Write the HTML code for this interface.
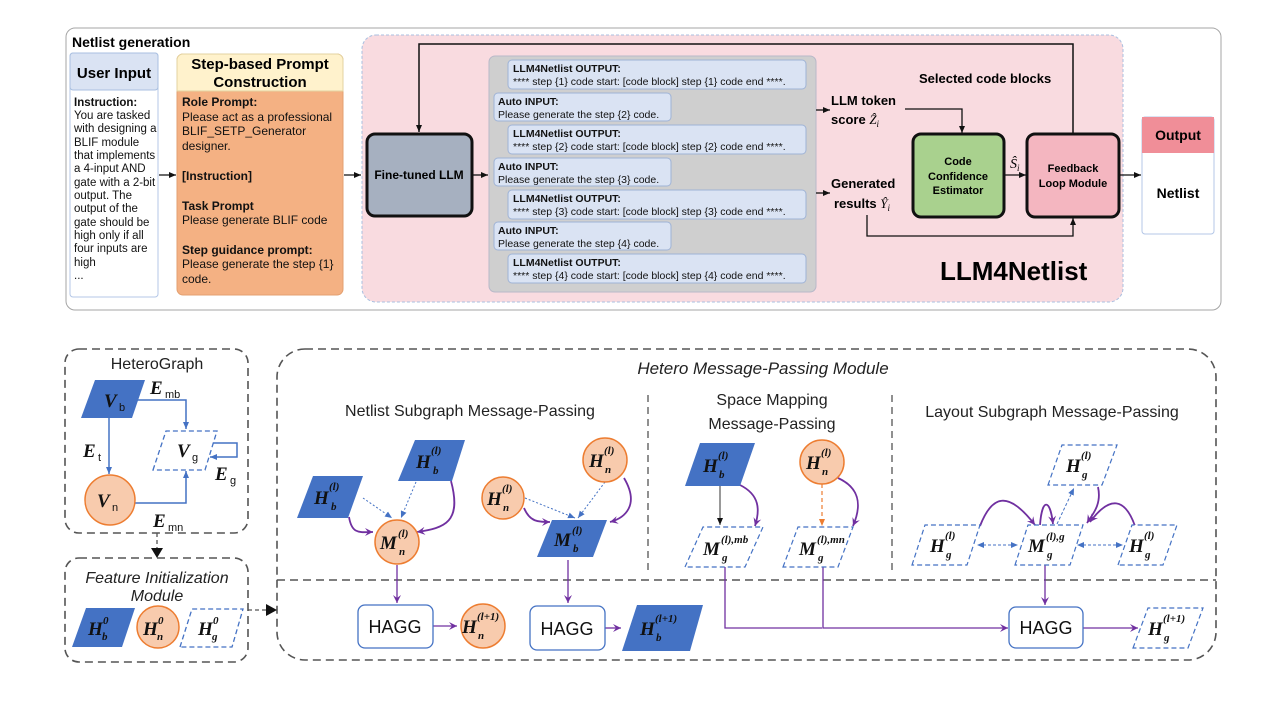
<!DOCTYPE html>
<html><head><meta charset="utf-8"><style>
html,body{margin:0;padding:0;background:#fff;}
svg{display:block;font-family:"Liberation Sans",sans-serif;}
.b{font-weight:bold;}
.m{font-family:"Liberation Serif",serif;font-style:italic;font-weight:bold;font-size:19px;fill:#111;}
.sp{font-family:"Liberation Serif",serif;font-style:italic;font-weight:bold;font-size:11px;fill:#111;}
.sb{font-family:"Liberation Serif",serif;font-style:italic;font-weight:bold;font-size:11px;fill:#111;}
.t{font-size:11.5px;fill:#111;}
.s{font-size:12px;fill:#111;}
.c{font-size:10.5px;fill:#111;}
</style></head><body>
<svg width="1280" height="720" viewBox="0 0 1280 720" xmlns="http://www.w3.org/2000/svg">
<defs>
<marker id="ak" markerWidth="8" markerHeight="8" refX="7" refY="4" orient="auto" markerUnits="userSpaceOnUse"><path d="M0,1 L7,4 L0,7z" fill="#111"/></marker>
<marker id="ap" markerWidth="10" markerHeight="10" refX="8" refY="5" orient="auto" markerUnits="userSpaceOnUse"><path d="M0,1 L8,5 L0,9 L3,5z" fill="#7030a0"/></marker>
<marker id="abl" markerWidth="8" markerHeight="8" refX="7" refY="4" orient="auto" markerUnits="userSpaceOnUse"><path d="M0,1 L7,4 L0,7z" fill="#4472c4"/></marker>
<marker id="ao" markerWidth="8" markerHeight="8" refX="7" refY="4" orient="auto" markerUnits="userSpaceOnUse"><path d="M0,1 L7,4 L0,7z" fill="#ed7d31"/></marker>
<marker id="abs" markerWidth="8" markerHeight="8" refX="1" refY="4" orient="auto" markerUnits="userSpaceOnUse"><path d="M7,1 L0,4 L7,7z" fill="#4472c4"/></marker>
</defs>

<!-- ============ TOP PANEL ============ -->
<rect x="66" y="28" width="1155" height="282" rx="9" fill="#fff" stroke="#a6a6a6" stroke-width="1"/>
<text x="72" y="47" class="b" font-size="14">Netlist generation</text>

<!-- User input -->
<rect x="70" y="53" width="88" height="244" rx="3" fill="#fff" stroke="#b4c7e7"/>
<rect x="70" y="53" width="88" height="37" rx="3" fill="#dae3f3" stroke="#a9bfe0"/>
<text x="114" y="78" class="b" font-size="15" text-anchor="middle">User Input</text>
<text class="t" x="74"><tspan x="74" y="106" font-weight="bold">Instruction:</tspan><tspan x="74" y="119">You are tasked</tspan><tspan x="74" y="132">with designing a</tspan><tspan x="74" y="146">BLIF module</tspan><tspan x="74" y="159">that implements</tspan><tspan x="74" y="172">a 4-input AND</tspan><tspan x="74" y="186">gate with a 2-bit</tspan><tspan x="74" y="199">output. The</tspan><tspan x="74" y="212">output of the</tspan><tspan x="74" y="226">gate should be</tspan><tspan x="74" y="239">high only if all</tspan><tspan x="74" y="252">four inputs are</tspan><tspan x="74" y="266">high</tspan><tspan x="74" y="279">...</tspan></text>

<!-- Step box -->
<rect x="177" y="54" width="166" height="241" rx="6" fill="#f4b183" stroke="#e3a070"/>
<path d="M177,91 V60 a6,6 0 0 1 6,-6 H337 a6,6 0 0 1 6,6 V91z" fill="#fff2cc" stroke="#e3d3a0"/>
<text x="260" y="69" class="b" font-size="15" text-anchor="middle">Step-based Prompt</text>
<text x="260" y="87" class="b" font-size="15" text-anchor="middle">Construction</text>
<text class="s"><tspan x="182" y="106" font-weight="bold">Role Prompt:</tspan><tspan x="182" y="121">Please act as a professional</tspan><tspan x="182" y="135">BLIF_SETP_Generator</tspan><tspan x="182" y="150">designer.</tspan><tspan x="182" y="180" font-weight="bold">[Instruction]</tspan><tspan x="182" y="210" font-weight="bold">Task Prompt</tspan><tspan x="182" y="224">Please generate BLIF code</tspan><tspan x="182" y="254" font-weight="bold">Step guidance prompt:</tspan><tspan x="182" y="268">Please generate the step {1}</tspan><tspan x="182" y="283">code.</tspan></text>

<line x1="159" y1="175" x2="176" y2="175" stroke="#111" stroke-width="1.3" marker-end="url(#ak)"/>
<line x1="344" y1="175" x2="361" y2="175" stroke="#111" stroke-width="1.3" marker-end="url(#ak)"/>

<!-- Pink region -->
<rect x="362" y="35" width="761" height="267" rx="14" fill="#f9dbe0" stroke="#a9bfe0" stroke-dasharray="3,2"/>

<!-- Fine-tuned LLM -->
<rect x="367" y="134" width="105" height="82" rx="8" fill="#a6b0c0" stroke="#111" stroke-width="3"/>
<text x="419" y="179" class="b" font-size="12" text-anchor="middle">Fine-tuned LLM</text>
<line x1="473" y1="175" x2="488" y2="175" stroke="#111" stroke-width="1.3" marker-end="url(#ak)"/>

<!-- feedback loop top -->
<polyline points="1073,135 1073,44 419,44 419,132" fill="none" stroke="#111" stroke-width="1.5" marker-end="url(#ak)"/>

<!-- gray panel -->
<rect x="489" y="56" width="327" height="236" rx="6" fill="#cfcfcf" stroke="#b8b8c8"/>
<g class="c">
<rect x="508" y="60" width="298" height="29" rx="4" fill="#dae3f3" stroke="#9fb3d6"/>
<text x="513" y="72" font-weight="bold">LLM4Netlist OUTPUT:</text><text x="513" y="85">**** step {1} code start: [code block] step {1} code end ****.</text>
<rect x="494" y="93" width="177" height="28" rx="4" fill="#dae3f3" stroke="#9fb3d6"/>
<text x="498" y="105" font-weight="bold">Auto INPUT:</text><text x="498" y="118">Please generate the step {2} code.</text>
<rect x="508" y="125" width="298" height="29" rx="4" fill="#dae3f3" stroke="#9fb3d6"/>
<text x="513" y="137" font-weight="bold">LLM4Netlist OUTPUT:</text><text x="513" y="150">**** step {2} code start:  [code block] step {2} code end ****.</text>
<rect x="494" y="158" width="177" height="28" rx="4" fill="#dae3f3" stroke="#9fb3d6"/>
<text x="498" y="170" font-weight="bold">Auto INPUT:</text><text x="498" y="183">Please generate the step {3} code.</text>
<rect x="508" y="190" width="298" height="29" rx="4" fill="#dae3f3" stroke="#9fb3d6"/>
<text x="513" y="202" font-weight="bold">LLM4Netlist OUTPUT:</text><text x="513" y="215">**** step {3} code start:  [code block] step {3} code end ****.</text>
<rect x="494" y="222" width="177" height="28" rx="4" fill="#dae3f3" stroke="#9fb3d6"/>
<text x="498" y="234" font-weight="bold">Auto INPUT:</text><text x="498" y="247">Please generate the step {4} code.</text>
<rect x="508" y="254" width="298" height="29" rx="4" fill="#dae3f3" stroke="#9fb3d6"/>
<text x="513" y="266" font-weight="bold">LLM4Netlist OUTPUT:</text><text x="513" y="279">**** step {4} code start: [code block] step {4} code end ****.</text>
</g>

<line x1="816" y1="110" x2="830" y2="110" stroke="#111" stroke-width="1.3" marker-end="url(#ak)"/>
<line x1="816" y1="193" x2="830" y2="193" stroke="#111" stroke-width="1.3" marker-end="url(#ak)"/>
<text x="831" y="105" class="b" font-size="13">LLM token</text>
<text x="831" y="124" class="b" font-size="13">score <tspan font-family="Liberation Serif" font-style="italic" font-weight="normal">Ẑ</tspan><tspan font-family="Liberation Serif" font-style="italic" font-weight="normal" font-size="9" dy="3">i</tspan></text>
<text x="831" y="188" class="b" font-size="13">Generated</text>
<text x="834" y="208" class="b" font-size="13">results <tspan font-family="Liberation Serif" font-style="italic" font-weight="normal">Ŷ</tspan><tspan font-family="Liberation Serif" font-style="italic" font-weight="normal" font-size="9" dy="3">i</tspan></text>
<text x="919" y="83" class="b" font-size="13">Selected code blocks</text>

<polyline points="905,109 962,109 962,133" fill="none" stroke="#111" stroke-width="1.3" marker-end="url(#ak)"/>
<polyline points="867,215 867,236 1073,236 1073,218" fill="none" stroke="#111" stroke-width="1.3" marker-end="url(#ak)"/>

<rect x="913" y="134" width="91" height="83" rx="8" fill="#a9d18e" stroke="#111" stroke-width="3"/>
<text x="958" y="165" class="b" font-size="11" text-anchor="middle">Code</text>
<text x="958" y="180" class="b" font-size="11" text-anchor="middle">Confidence</text>
<text x="958" y="194" class="b" font-size="11" text-anchor="middle">Estimator</text>
<line x1="1005" y1="175" x2="1026" y2="175" stroke="#111" stroke-width="1.3" marker-end="url(#ak)"/>
<text x="1010" y="168" font-family="Liberation Serif" font-style="italic" font-size="14">Ŝ<tspan font-size="9" dy="3">i</tspan></text>

<rect x="1027" y="134" width="92" height="83" rx="8" fill="#f4b6c0" stroke="#111" stroke-width="3"/>
<text x="1073" y="172" class="b" font-size="11" text-anchor="middle">Feedback</text>
<text x="1073" y="187" class="b" font-size="11" text-anchor="middle">Loop Module</text>
<line x1="1120" y1="175" x2="1141" y2="175" stroke="#111" stroke-width="1.3" marker-end="url(#ak)"/>
<text x="940" y="280" class="b" font-size="26">LLM4Netlist</text>

<rect x="1142" y="117" width="72" height="117" rx="3" fill="#fff" stroke="#b4c7e7"/>
<rect x="1142" y="117" width="72" height="36" fill="#f08e98"/>
<text x="1178" y="140" class="b" font-size="14" text-anchor="middle">Output</text>
<text x="1178" y="198" class="b" font-size="14" text-anchor="middle">Netlist</text>

<!-- ============ BOTTOM ============ -->
<g fill="none" stroke="#555" stroke-width="1.6" stroke-dasharray="8,5">
<rect x="65" y="349" width="183" height="184" rx="14"/>
<rect x="65" y="558" width="183" height="104" rx="14"/>
<rect x="277" y="349" width="939" height="311" rx="28"/>
<line x1="277" y1="580" x2="1216" y2="580"/>
<line x1="648" y1="395" x2="648" y2="573" stroke-width="1.3" stroke-dasharray="7,5"/>
<line x1="892" y1="395" x2="892" y2="573" stroke-width="1.3" stroke-dasharray="7,5"/>
<line x1="157" y1="533" x2="157" y2="550" stroke-width="1.3" stroke-dasharray="4,3"/>
<line x1="248" y1="610" x2="268" y2="610" stroke-width="1.3" stroke-dasharray="4,3"/>
</g>
<path d="M151,548 L163,548 L157,558z" fill="#111"/>
<path d="M266,604 L266,616 L277,610z" fill="#111"/>

<text x="157" y="369" font-size="16" text-anchor="middle" fill="#222">HeteroGraph</text>
<text x="157" y="583" font-size="16" font-style="italic" text-anchor="middle" fill="#222">Feature Initialization</text>
<text x="157" y="601" font-size="16" font-style="italic" text-anchor="middle" fill="#222">Module</text>
<text x="763" y="374" font-size="17" font-style="italic" text-anchor="middle" fill="#222">Hetero Message-Passing Module</text>
<text x="470" y="416" font-size="16" text-anchor="middle" fill="#222">Netlist Subgraph Message-Passing</text>
<text x="772" y="405" font-size="16" text-anchor="middle" fill="#222">Space Mapping</text>
<text x="772" y="429" font-size="16" text-anchor="middle" fill="#222">Message-Passing</text>
<text x="1052" y="417" font-size="16" text-anchor="middle" fill="#222">Layout Subgraph Message-Passing</text>

<!-- HeteroGraph -->
<g stroke="#4472c4" stroke-width="1.5" fill="none">
<polyline points="132,400 186,400 186,429" marker-end="url(#abl)"/>
<line x1="109" y1="418" x2="109" y2="474" marker-end="url(#abl)"/>
<polyline points="135,503 186,503 186,471" marker-end="url(#abl)"/>
<polyline points="212,443 237,443 237,457 210,457" marker-end="url(#abl)"/>
</g>
<polygon points="81,418 95,380 145,380 132,418" fill="#4472c4"/>
<polygon points="153,470 166,431 217,431 205,470" fill="#fff" stroke="#4472c4" stroke-width="1.3" stroke-dasharray="5,3"/>
<circle cx="110" cy="500" r="25" fill="#f8cbad" stroke="#ed7d31" stroke-width="1.5"/>
<text x="104" y="407" class="m" font-size="21">V</text><text x="119" y="411" font-size="11" fill="#111">b</text>
<text x="177" y="457" class="m" font-size="21">V</text><text x="192" y="461" font-size="11" fill="#111">g</text>
<text x="97" y="507" class="m" font-size="21">V</text><text x="112" y="511" font-size="11" fill="#111">n</text>
<text x="150" y="394" class="m" font-size="21">E</text><text x="165" y="398" font-size="11" fill="#111">mb</text>
<text x="83" y="457" class="m" font-size="21">E</text><text x="98" y="461" font-size="11" fill="#111">t</text>
<text x="215" y="480" class="m" font-size="21">E</text><text x="230" y="484" font-size="11" fill="#111">g</text>
<text x="153" y="527" class="m" font-size="21">E</text><text x="168" y="531" font-size="11" fill="#111">mn</text>

<!-- Feature init nodes -->
<polygon points="72,647 86,608 135,608 122,647" fill="#4472c4"/>
<circle cx="158" cy="627" r="21" fill="#f8cbad" stroke="#ed7d31" stroke-width="1.5"/>
<polygon points="180,647 192,609 243,609 232,647" fill="#fff" stroke="#4472c4" stroke-width="1.3" stroke-dasharray="5,3"/>
<text x="88" y="635" class="m">H</text><text x="103" y="624" class="sp">0</text><text x="102" y="640" class="sb">b</text>
<text x="143" y="635" class="m">H</text><text x="158" y="624" class="sp">0</text><text x="157" y="640" class="sb">n</text>
<text x="198" y="635" class="m">H</text><text x="213" y="624" class="sp">0</text><text x="212" y="640" class="sb">g</text>

<!-- Netlist subgraph -->
<g stroke="#4472c4" stroke-width="1" stroke-dasharray="2,2" fill="none">
<line x1="363" y1="498" x2="392" y2="518" marker-end="url(#abl)"/>
<line x1="416" y1="482" x2="401" y2="518" marker-end="url(#abl)"/>
<line x1="525" y1="498" x2="575" y2="518" marker-end="url(#abl)"/>
<line x1="605" y1="482" x2="578" y2="518" marker-end="url(#abl)"/>
</g>
<g stroke="#7030a0" stroke-width="1.8" fill="none">
<path d="M349,517 C352,535 360,532 373,532" marker-end="url(#ap)"/>
<path d="M451,481 C462,522 445,528 417,532" marker-end="url(#ap)"/>
<path d="M524,508 C530,522 538,522 550,522" marker-end="url(#ap)"/>
<path d="M624,478 C640,505 625,518 610,522" marker-end="url(#ap)"/>
<path d="M397,565 V603" stroke-width="1.3" marker-end="url(#ap)"/>
<path d="M568,560 V603" stroke-width="1.3" marker-end="url(#ap)"/>
<path d="M433,626 H457" stroke-width="1.3" marker-end="url(#ap)"/>
<path d="M605,628 H621" stroke-width="1.3" marker-end="url(#ap)"/>
<path d="M740,485 C760,495 760,510 755,526" marker-end="url(#ap)"/>
<path d="M838,478 C860,488 862,505 853,526" marker-end="url(#ap)"/>
<polyline points="725,567 725,628 822,628" stroke-width="1.3"/>
<polyline points="823,567 823,628 1008,628" stroke-width="1.3" marker-end="url(#ap)"/>
<path d="M1045,565 V605" stroke-width="1.3" marker-end="url(#ap)"/>
<path d="M1083,628 H1138" stroke-width="1.3" marker-end="url(#ap)"/>
<path d="M980,526 C992,495 1008,490 1035,525" marker-end="url(#ap)"/>
<path d="M1040,525 C1042,498 1050,498 1053,524" marker-end="url(#ap)"/>
<path d="M1098,487 C1102,505 1092,515 1087,523" marker-end="url(#ap)"/>
<path d="M1135,526 C1125,498 1110,495 1090,522" marker-end="url(#ap)"/>
</g>
<line x1="720" y1="486" x2="720" y2="525" stroke="#333" stroke-width="1" marker-end="url(#ak)"/>
<line x1="822" y1="484" x2="822" y2="526" stroke="#ed7d31" stroke-width="1.2" stroke-dasharray="4,3" marker-end="url(#ao)"/>
<g stroke="#4472c4" stroke-width="1" stroke-dasharray="3,2" fill="none">
<line x1="978" y1="545" x2="1018" y2="545" marker-start="url(#abs)" marker-end="url(#abl)"/>
<line x1="1078" y1="545" x2="1123" y2="545" marker-start="url(#abs)" marker-end="url(#abl)"/>
<line x1="1057" y1="524" x2="1074" y2="488" marker-end="url(#abl)"/>
</g>

<!-- nodes -->
<polygon points="297,518 313,476 363,476 348,518" fill="#4472c4"/>
<polygon points="398,481 415,440 465,440 452,481" fill="#4472c4"/>
<circle cx="397" cy="542" r="22" fill="#f8cbad" stroke="#ed7d31" stroke-width="1.5"/>
<circle cx="483" cy="626" r="22" fill="#f8cbad" stroke="#ed7d31" stroke-width="1.5"/>
<circle cx="503" cy="498" r="21" fill="#f8cbad" stroke="#ed7d31" stroke-width="1.5"/>
<circle cx="605" cy="460" r="22" fill="#f8cbad" stroke="#ed7d31" stroke-width="1.5"/>
<polygon points="537,557 552,520 607,520 593,557" fill="#4472c4"/>
<polygon points="622,651 637,605 703,605 690,651" fill="#4472c4"/>
<polygon points="685,486 700,443 755,443 740,486" fill="#4472c4"/>
<circle cx="822" cy="462" r="22" fill="#f8cbad" stroke="#ed7d31" stroke-width="1.5"/>
<g fill="#fff" stroke="#4472c4" stroke-width="1.2" stroke-dasharray="5,3">
<polygon points="685,567 703,527 763,527 745,567"/>
<polygon points="783,567 798,527 853,527 838,567"/>
<polygon points="1048,485 1062,445 1117,445 1102,485"/>
<polygon points="912,565 925,525 980,525 967,565"/>
<polygon points="1015,565 1028,525 1083,525 1070,565"/>
<polygon points="1118,565 1132,525 1177,525 1163,565"/>
<polygon points="1133,648 1148,608 1203,608 1188,648"/>
</g>
<g fill="#fff" stroke="#4472c4" stroke-width="1.3">
<rect x="358" y="605" width="75" height="43" rx="7"/>
<rect x="530" y="606" width="75" height="44" rx="7"/>
<rect x="1009" y="607" width="74" height="41" rx="7"/>
</g>
<text x="395" y="633" font-size="18" text-anchor="middle" fill="#111">HAGG</text>
<text x="567" y="635" font-size="18" text-anchor="middle" fill="#111">HAGG</text>
<text x="1046" y="634" font-size="18" text-anchor="middle" fill="#111">HAGG</text>

<!-- labels -->
<text x="314" y="504" class="m">H</text><text x="329" y="490" class="sp">(l)</text><text x="331" y="510" class="sb">b</text>
<text x="416" y="468" class="m">H</text><text x="431" y="454" class="sp">(l)</text><text x="433" y="474" class="sb">b</text>
<text x="380" y="549" class="m">M</text><text x="398" y="537" class="sp">(l)</text><text x="399" y="555" class="sb">n</text>
<text x="462" y="633" class="m">H</text><text x="477" y="620" class="sp">(l+1)</text><text x="478" y="639" class="sb">n</text>
<text x="487" y="505" class="m">H</text><text x="502" y="492" class="sp">(l)</text><text x="503" y="511" class="sb">n</text>
<text x="589" y="467" class="m">H</text><text x="604" y="454" class="sp">(l)</text><text x="605" y="473" class="sb">n</text>
<text x="554" y="546" class="m">M</text><text x="572" y="534" class="sp">(l)</text><text x="573" y="552" class="sb">b</text>
<text x="640" y="635" class="m">H</text><text x="655" y="622" class="sp">(l+1)</text><text x="656" y="641" class="sb">b</text>
<text x="703" y="472" class="m">H</text><text x="718" y="459" class="sp">(l)</text><text x="719" y="478" class="sb">b</text>
<text x="806" y="469" class="m">H</text><text x="821" y="456" class="sp">(l)</text><text x="822" y="475" class="sb">n</text>
<text x="703" y="555" class="m">M</text><text x="721" y="543" class="sp">(l),mb</text><text x="722" y="561" class="sb">g</text>
<text x="799" y="555" class="m">M</text><text x="817" y="543" class="sp">(l),mn</text><text x="818" y="561" class="sb">g</text>
<text x="1066" y="472" class="m">H</text><text x="1081" y="459" class="sp">(l)</text><text x="1082" y="478" class="sb">g</text>
<text x="930" y="552" class="m">H</text><text x="945" y="539" class="sp">(l)</text><text x="946" y="558" class="sb">g</text>
<text x="1028" y="552" class="m">M</text><text x="1046" y="540" class="sp">(l),g</text><text x="1047" y="558" class="sb">g</text>
<text x="1129" y="552" class="m">H</text><text x="1144" y="539" class="sp">(l)</text><text x="1145" y="558" class="sb">g</text>
<text x="1148" y="635" class="m">H</text><text x="1163" y="622" class="sp">(l+1)</text><text x="1164" y="641" class="sb">g</text>
</svg>
</body></html>
